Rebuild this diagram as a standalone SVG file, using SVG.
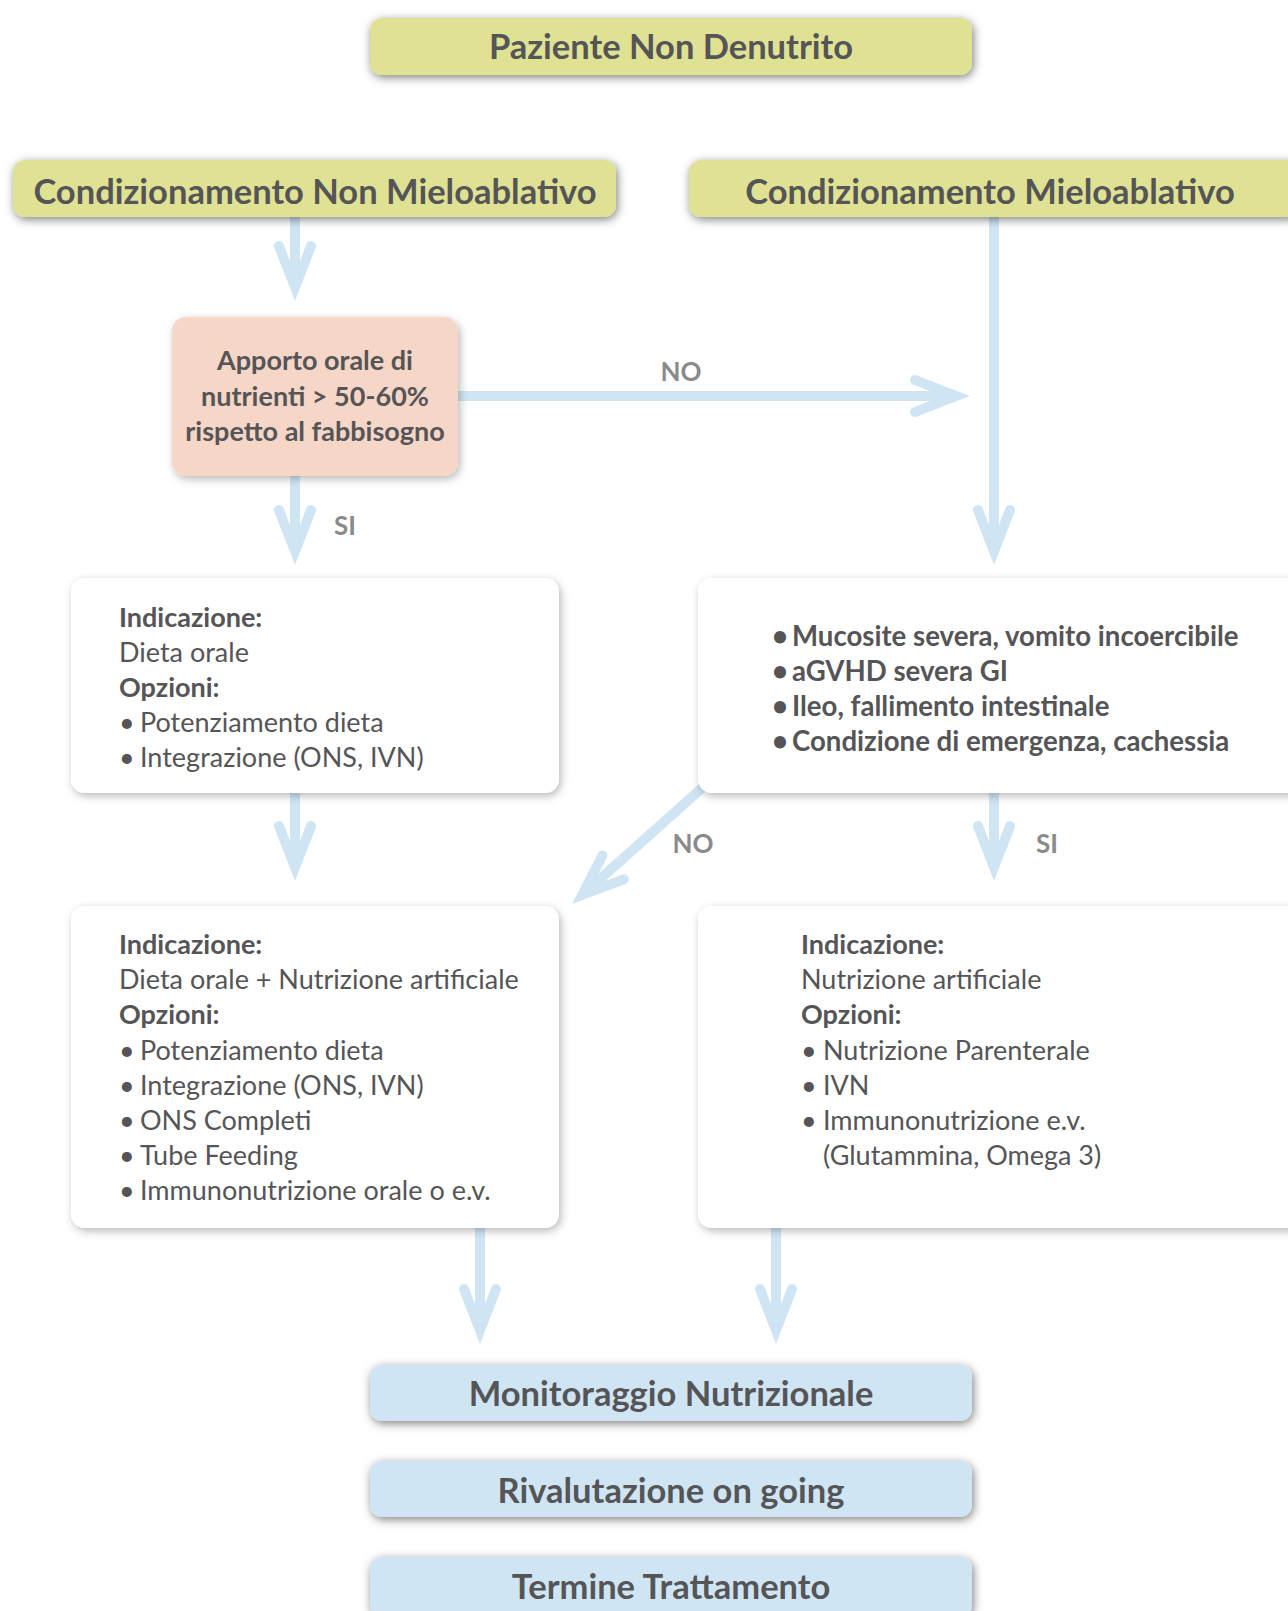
<svg xmlns="http://www.w3.org/2000/svg" width="1288" height="1611" viewBox="0 0 1288 1611">
  <style>
    .t { font-family: Lato, "Open Sans", "DejaVu Sans", sans-serif; fill: #555557; }
    .title { font-size: 34.5px; font-weight: 700; text-anchor: middle; }
    .b { font-weight: 700; }
    .body { font-size: 27px; }
    .wide { font-size: 27.6px; }
    .mid { text-anchor: middle; }
    .lbl { font-family: Lato, "Open Sans", sans-serif; font-size: 26px; font-weight: 700; fill: #8a8a8a; }
    .yel { fill: #e0e293; filter: url(#shDark); }
    .blu { fill: #cfe5f4; filter: url(#shDark); }
    .ora { fill: #f6d6c7; filter: url(#shSoft); }
    .wht { fill: #ffffff; filter: url(#shSoft); }
    .conn line { stroke: #cfe5f4; stroke-width: 10; fill: none; marker-end: url(#head); }
  </style>
  <defs>
    <filter id="shDark" x="-10%" y="-50%" width="120%" height="200%">
      <feDropShadow dx="1.5" dy="2.5" stdDeviation="5" flood-color="#000" flood-opacity="0.5"/>
    </filter>
    <filter id="shSoft" x="-10%" y="-20%" width="125%" height="140%">
      <feDropShadow dx="2" dy="3" stdDeviation="4" flood-color="#000" flood-opacity="0.28"/>
    </filter>
    <!-- swept-back arrowhead, tip 18px beyond the end of the shaft -->
    <marker id="head" markerUnits="userSpaceOnUse" orient="auto" refX="0" refY="0" markerWidth="80" markerHeight="60" overflow="visible">
      <path d="M18,0 L-35.6,-20.8 A5,5 0 0 0 -38.4,-11.2 L-22,-5 L-22,5 L-38.4,11.2 A5,5 0 0 0 -35.6,20.8 Z" fill="#cfe5f4"/>
    </marker>
  </defs>

  <rect width="1288" height="1611" fill="#ffffff"/>

  <!-- connectors -->
  <g id="connectors" class="conn">
    <line x1="295" y1="217" x2="295" y2="283"/>
    <line x1="458" y1="396" x2="952" y2="396"/>
    <line x1="994" y1="217" x2="994" y2="547"/>
    <line x1="295" y1="476" x2="295" y2="547"/>
    <line x1="295" y1="793" x2="295" y2="863"/>
    <line x1="994" y1="793" x2="994" y2="863"/>
    <line x1="702" y1="788" x2="585.5" y2="892"/>
    <line x1="480" y1="1228" x2="480" y2="1326"/>
    <line x1="776" y1="1228" x2="776" y2="1326"/>
  </g>

  <!-- connector labels -->
  <g id="labels">
    <text class="lbl" x="681" y="381" text-anchor="middle">NO</text>
    <text class="lbl" x="345" y="535" text-anchor="middle">SI</text>
    <text class="lbl" x="693" y="853" text-anchor="middle">NO</text>
    <text class="lbl" x="1047" y="853" text-anchor="middle">SI</text>
  </g>

  <g id="paziente">
    <rect class="yel" x="370" y="18" width="602" height="57" rx="12"/>
    <text class="t title" x="671" y="58.5">Paziente Non Denutrito</text>
  </g>

  <g id="non-mieloablativo">
    <rect class="yel" x="13" y="160" width="603" height="57" rx="12"/>
    <text class="t title" x="315" y="203.5">Condizionamento Non Mieloablativo</text>
  </g>

  <g id="mieloablativo">
    <rect class="yel" x="689" y="160" width="610" height="57" rx="12"/>
    <text class="t title" x="990" y="203.5">Condizionamento Mieloablativo</text>
  </g>

  <g id="apporto">
    <rect class="ora" x="172" y="317" width="286" height="159" rx="14"/>
    <text class="t b body mid" x="315" y="370">Apporto orale di</text>
    <text class="t b body mid" x="315" y="405.5">nutrienti &gt; 50-60%</text>
    <text class="t b body mid" x="315" y="440.5">rispetto al fabbisogno</text>
  </g>

  <g id="dieta-orale">
    <rect class="wht" x="71" y="578" width="488" height="215" rx="14"/>
    <text class="t b body" x="119" y="626.5">Indicazione:</text>
    <text class="t body" x="119" y="661.5">Dieta orale</text>
    <text class="t b body" x="119" y="696.5">Opzioni:</text>
    <text class="t body" x="119" y="732">•</text>
    <text class="t body" x="140" y="732">Potenziamento dieta</text>
    <text class="t body" x="119" y="767">•</text>
    <text class="t body" x="140" y="767">Integrazione (ONS, IVN)</text>
  </g>

  <g id="condizioni">
    <rect class="wht" x="698" y="578" width="610" height="215" rx="14"/>
    <text class="t b wide" x="772" y="646">•</text>
    <text class="t b wide" x="792" y="646">Mucosite severa, vomito incoercibile</text>
    <text class="t b wide" x="772" y="681">•</text>
    <text class="t b wide" x="792" y="681">aGVHD severa GI</text>
    <text class="t b wide" x="772" y="716">•</text>
    <text class="t b wide" x="792" y="716">Ileo, fallimento intestinale</text>
    <text class="t b wide" x="772" y="751">•</text>
    <text class="t b wide" x="792" y="751">Condizione di emergenza, cachessia</text>
  </g>

  <g id="dieta-nutrizione">
    <rect class="wht" x="71" y="906" width="488" height="322" rx="14"/>
    <text class="t b body" x="119" y="954">Indicazione:</text>
    <text class="t body" x="119" y="989">Dieta orale + Nutrizione artificiale</text>
    <text class="t b body" x="119" y="1024">Opzioni:</text>
    <text class="t body" x="119" y="1060">•</text>
    <text class="t body" x="140" y="1060">Potenziamento dieta</text>
    <text class="t body" x="119" y="1095">•</text>
    <text class="t body" x="140" y="1095">Integrazione (ONS, IVN)</text>
    <text class="t body" x="119" y="1130">•</text>
    <text class="t body" x="140" y="1130">ONS Completi</text>
    <text class="t body" x="119" y="1165">•</text>
    <text class="t body" x="140" y="1165">Tube Feeding</text>
    <text class="t body" x="119" y="1200">•</text>
    <text class="t body" x="140" y="1200">Immunonutrizione orale o e.v.</text>
  </g>

  <g id="nutrizione-artificiale">
    <rect class="wht" x="698" y="906" width="610" height="322" rx="14"/>
    <text class="t b body" x="801" y="954">Indicazione:</text>
    <text class="t body" x="801" y="989">Nutrizione artificiale</text>
    <text class="t b body" x="801" y="1024">Opzioni:</text>
    <text class="t body" x="801" y="1060">•</text>
    <text class="t body" x="823" y="1060">Nutrizione Parenterale</text>
    <text class="t body" x="801" y="1095">•</text>
    <text class="t body" x="823" y="1095">IVN</text>
    <text class="t body" x="801" y="1130">•</text>
    <text class="t body" x="823" y="1130">Immunonutrizione e.v.</text>
    <text class="t body" x="823" y="1165">(Glutammina, Omega 3)</text>
  </g>

  <g id="monitoraggio">
    <rect class="blu" x="370" y="1365" width="602" height="56" rx="12"/>
    <text class="t title" x="671" y="1406">Monitoraggio Nutrizionale</text>
  </g>

  <g id="rivalutazione">
    <rect class="blu" x="370" y="1461" width="602" height="56" rx="12"/>
    <text class="t title" x="671" y="1502.5">Rivalutazione on going</text>
  </g>

  <g id="termine">
    <rect class="blu" x="370" y="1557" width="602" height="60" rx="12"/>
    <text class="t title" x="671" y="1599">Termine Trattamento</text>
  </g>
</svg>
